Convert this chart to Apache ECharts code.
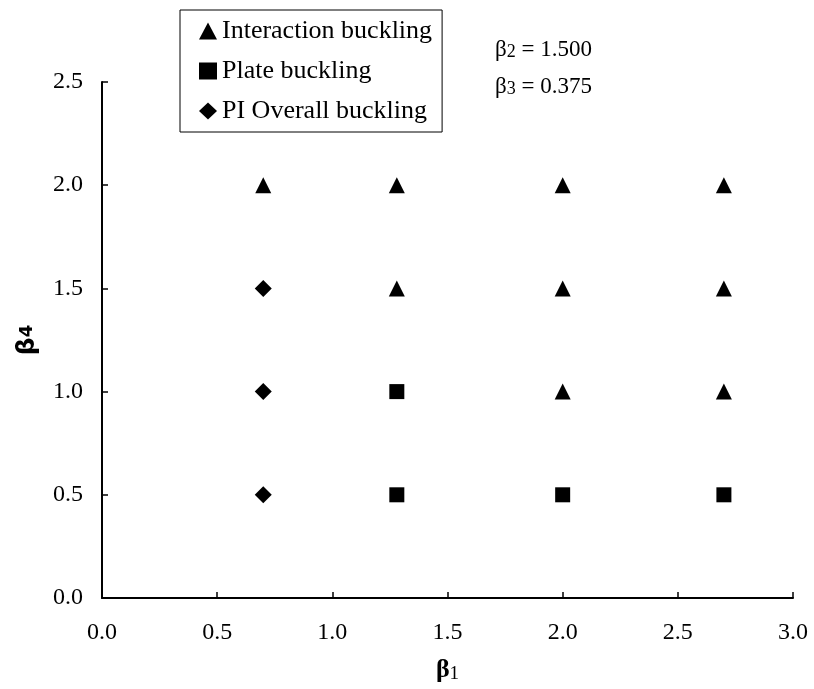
<!DOCTYPE html>
<html><head><meta charset="utf-8">
<script src="https://cdn.jsdelivr.net/npm/echarts@6/dist/echarts.min.js"></script>
<style>html,body{margin:0;padding:0;background:#fff}#c{width:814px;height:689px}</style>
</head><body><div id="c"></div>
<script>
const seriesNames = ['Interaction buckling', 'Plate buckling', 'PI Overall buckling'];
const interactionPts = [[0.7,2.0],[1.28,2.0],[2.0,2.0],[2.7,2.0],[1.28,1.5],[2.0,1.5],[2.7,1.5],[2.0,1.0],[2.7,1.0]];
const platePts = [[1.28,1.0],[1.28,0.5],[2.0,0.5],[2.7,0.5]];
const overallPts = [[0.7,1.5],[0.7,1.0],[0.7,0.5]];
const annotations = [['2','1.500'],['3','0.375']];

const serif = '"Liberation Serif","Times New Roman",serif';
const chart = echarts.init(document.getElementById('c'), null, {renderer:'canvas'});
const axisCommon = {
  axisLine:{show:true,lineStyle:{color:'#000',width:2}},
  axisTick:{show:true,inside:true,length:6,lineStyle:{color:'#000',width:1.5}},
  splitLine:{show:false},
  axisLabel:{color:'#000',fontFamily:serif,fontSize:24,formatter:v=>v.toFixed(1)}
};
chart.setOption({
  animation:false,
  backgroundColor:'#fff',
  grid:{left:102,right:21,top:82,bottom:88,containLabel:false},
  xAxis:Object.assign({type:'value',min:0,max:3,interval:0.5,
    name:'{b|β}{s|1}',nameLocation:'middle',nameGap:59,
    nameTextStyle:{rich:{b:{fontFamily:serif,fontSize:26,fontWeight:'bold',color:'#000'},s:{fontFamily:serif,fontSize:19,color:'#000',verticalAlign:'bottom',padding:[8,0,0,0]}}}
  },axisCommon,{axisLabel:Object.assign({},axisCommon.axisLabel,{margin:23})}),
  yAxis:Object.assign({type:'value',min:0,max:2.5,interval:0.5,
    name:'{b|β}{s|4}',nameLocation:'middle',nameGap:62,nameRotate:90,
    nameTextStyle:{rich:{b:{fontFamily:'"DejaVu Sans",sans-serif',fontSize:25,fontWeight:'bold',color:'#000'},s:{fontFamily:'"DejaVu Sans",sans-serif',fontSize:18,fontWeight:'bold',color:'#000'}}}
  },axisCommon,{axisLabel:Object.assign({},axisCommon.axisLabel,{margin:19})}),
  legend:{
    orient:'vertical',left:180,top:10,
    padding:[8,10,8,19],itemGap:14,itemWidth:18,itemHeight:17,
    borderColor:'#000',borderWidth:1,backgroundColor:'#fff',
    textStyle:{fontFamily:serif,fontSize:26,color:'#000',lineHeight:26},
    data:[{name:seriesNames[0],icon:'triangle'},{name:seriesNames[1],icon:'rect'},{name:seriesNames[2],icon:'diamond'}]
  },
  graphic:annotations.map((a,i)=>({type:'text',left:495,top:38+i*37,style:{
    text:'{b|β}{s|'+a[0]+'}{t| = '+a[1]+'}',
    rich:{b:{fontFamily:serif,fontSize:23,fill:'#000'},s:{fontFamily:serif,fontSize:18,fill:'#000',verticalAlign:'bottom'},t:{fontFamily:serif,fontSize:23,fill:'#000'}}
  }})),
  series:[
    {name:seriesNames[0],type:'scatter',symbol:'triangle',symbolSize:16,itemStyle:{color:'#000',opacity:1},data:interactionPts},
    {name:seriesNames[1],type:'scatter',symbol:'rect',symbolSize:15,itemStyle:{color:'#000',opacity:1},data:platePts},
    {name:seriesNames[2],type:'scatter',symbol:'diamond',symbolSize:17,itemStyle:{color:'#000',opacity:1},data:overallPts}
  ]
});
</script></body></html>
